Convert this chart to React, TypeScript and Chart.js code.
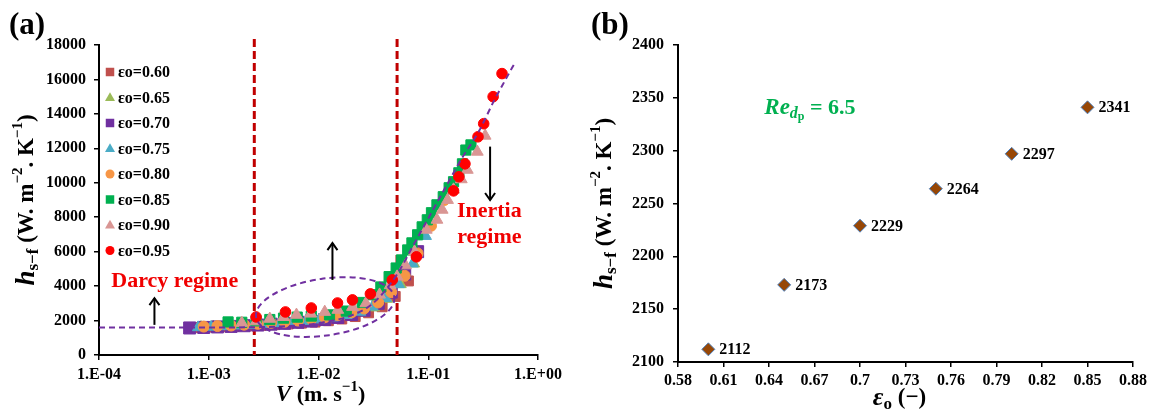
import React, { useEffect, useRef } from 'react';
import { Chart, registerables } from 'chart.js';
Chart.register(...registerables);

const FONT = '"Liberation Serif", "Times New Roman", serif';

// ---------- Panel (a) data ----------
const xTicksA = [1e-4, 1e-3, 1e-2, 1e-1, 1];
const xTickLabelsA = ['1.E-04', '1.E-03', '1.E-02', '1.E-01', '1.E+00'];

const seriesLabels = ['εo=0.60', 'εo=0.65', 'εo=0.70', 'εo=0.75', 'εo=0.80', 'εo=0.85', 'εo=0.90', 'εo=0.95'];
const seriesColors = ['#C0504D', '#9BBB59', '#7030A0', '#4BACC6', '#F79646', '#00B050', '#D99694', '#FF0000'];
const seriesStyles = ['rect', 'triangle', 'rect', 'triangle', 'circle', 'rect', 'triangle', 'circle'];
const seriesRadius = [7, 6.5, 8.5, 6.5, 5.5, 7.2, 6.8, 5.3];

const v060 = [0.00075, 0.001, 0.0013, 0.0017, 0.0023, 0.003, 0.004, 0.0053, 0.007, 0.0093, 0.0123, 0.0163, 0.0216, 0.0286, 0.038, 0.05, 0.066];
const h060 = [1600, 1620, 1640, 1660, 1690, 1720, 1760, 1800, 1850, 1910, 1990, 2090, 2230, 2450, 2800, 3400, 4300];
const v065 = [0.00085, 0.0011, 0.0015, 0.002, 0.0026, 0.0034, 0.0045, 0.006, 0.0079, 0.0104, 0.0138, 0.0183, 0.024, 0.032, 0.042, 0.056, 0.074];
const h065 = [1620, 1640, 1670, 1700, 1730, 1770, 1820, 1870, 1940, 2020, 2120, 2260, 2450, 2750, 3250, 4100, 5300];
const v070 = [0.00067, 0.0009, 0.0012, 0.0016, 0.0021, 0.0028, 0.0037, 0.0049, 0.0065, 0.0086, 0.0114, 0.015, 0.02, 0.026, 0.035, 0.046, 0.061, 0.08];
const h070 = [1570, 1600, 1630, 1660, 1700, 1740, 1790, 1840, 1900, 1970, 2060, 2180, 2350, 2600, 3000, 3650, 4700, 6000];
const v075 = [0.0008, 0.00105, 0.0014, 0.0019, 0.0025, 0.0033, 0.0044, 0.0058, 0.0077, 0.0102, 0.0135, 0.018, 0.024, 0.031, 0.041, 0.054, 0.072, 0.095];
const h075 = [1600, 1630, 1660, 1700, 1740, 1790, 1840, 1900, 1970, 2060, 2170, 2310, 2500, 2800, 3300, 4100, 5300, 6900];
const v080 = [0.0009, 0.0012, 0.0016, 0.0021, 0.0028, 0.0037, 0.0049, 0.0065, 0.0086, 0.0114, 0.015, 0.02, 0.026, 0.035, 0.046, 0.061, 0.08, 0.106, 0.14];
const h080 = [1650, 1680, 1710, 1760, 1810, 1870, 1930, 2000, 2090, 2190, 2320, 2480, 2700, 3050, 3650, 4600, 5900, 7500, 9000];
const v085 = [0.0015, 0.002, 0.0027, 0.0036, 0.0048, 0.0064, 0.0086, 0.0126, 0.0179, 0.025, 0.031, 0.037, 0.044, 0.051, 0.057, 0.065, 0.071, 0.08, 0.088, 0.098, 0.107, 0.12, 0.137, 0.155, 0.17, 0.19, 0.205, 0.22, 0.245];
const h085 = [1920, 1900, 1980, 2060, 2140, 2200, 2260, 2330, 2550, 3050, 3500, 3950, 4550, 5050, 5520, 6100, 6510, 6980, 7440, 7850, 8260, 8720, 9190, 9710, 10060, 10580, 11100, 11900, 12200];
const v090 = [0.002, 0.0027, 0.0036, 0.0048, 0.0063, 0.0085, 0.0114, 0.015, 0.0204, 0.027, 0.036, 0.045, 0.052, 0.062, 0.075, 0.096, 0.12, 0.134, 0.15, 0.17, 0.2, 0.227, 0.28, 0.33];
const h090 = [1860, 1950, 2100, 2200, 2330, 2400, 2500, 2620, 2790, 3000, 3500, 4050, 4550, 5200, 6000, 7270, 7850, 8430, 9000, 9600, 10200, 10750, 11800, 12730];
const v095 = [0.0027, 0.005, 0.0086, 0.0149, 0.0204, 0.0297, 0.047, 0.078, 0.17, 0.19, 0.216, 0.284, 0.32, 0.39, 0.47];
const h095 = [2210, 2500, 2730, 3020, 3200, 3550, 4360, 5700, 9530, 10350, 11100, 12670, 13430, 15000, 16340];

const seriesV = [v060, v065, v070, v075, v080, v085, v090, v095];
const seriesH = [h060, h065, h070, h075, h080, h085, h090, h095];

// dashed fitted trend line
const fitV = [1e-4, 0.001, 0.003, 0.006, 0.01, 0.02, 0.03, 0.04, 0.053, 0.0727, 0.1, 0.15, 0.2, 0.29, 0.4, 0.5, 0.62];
const fitH = [1600, 1600, 1620, 1700, 1850, 2300, 2900, 3700, 4770, 6340, 7930, 9950, 11370, 13000, 14800, 15930, 17000];

// regime limits (vertical dashed lines)
const limitV = [0.0026, 0.052];

// annotations (data coordinates)
const ellipseLeft = [0.0027, 2200];
const ellipseRight = [0.049, 3370];
const ellipseHalfMinor = 1650;
const arrowsA = [
  { v: 3.2e-4, from: 1750, to: 3300 },
  { v: 0.0134, from: 4360, to: 6500 },
  { v: 0.366, from: 12100, to: 9000 },
];
const darcyPos = [4.9e-4, 4250];
const inertiaPos = [0.36, 8350, 6850];

// ---------- Panel (b) data ----------
const porosity = [0.6, 0.65, 0.7, 0.75, 0.8, 0.85];
const hsf = [2112, 2173, 2229, 2264, 2297, 2341];
const xTicksB = [0.58, 0.61, 0.64, 0.67, 0.7, 0.73, 0.76, 0.79, 0.82, 0.85, 0.88];
const xTickLabelsB = ['0.58', '0.61', '0.64', '0.67', '0.7', '0.73', '0.76', '0.79', '0.82', '0.85', '0.88'];
const rePos = [0.667, 2340];

type Part = { t: string; size: number; italic?: boolean; dy?: number };

function drawRich(ctx: CanvasRenderingContext2D, parts: Part[], x: number, y: number, color: string, rotate = 0, align: 'center' | 'left' = 'center') {
  ctx.save();
  ctx.translate(x, y);
  if (rotate) ctx.rotate(rotate);
  const fontOf = (p: Part) => `${p.italic ? 'italic ' : ''}bold ${p.size}px ${FONT}`;
  let total = 0;
  const widths = parts.map((p) => {
    ctx.font = fontOf(p);
    const w = ctx.measureText(p.t).width;
    total += w;
    return w;
  });
  let cx = align === 'center' ? -total / 2 : 0;
  ctx.fillStyle = color;
  ctx.textBaseline = 'middle';
  ctx.textAlign = 'left';
  parts.forEach((p, i) => {
    ctx.font = fontOf(p);
    ctx.fillText(p.t, cx, p.dy || 0);
    cx += widths[i];
  });
  ctx.restore();
}

function drawArrow(ctx: CanvasRenderingContext2D, x: number, y1: number, y2: number) {
  const dir = y2 < y1 ? -1 : 1;
  ctx.save();
  ctx.strokeStyle = '#000';
  ctx.lineWidth = 2;
  ctx.setLineDash([]);
  ctx.beginPath();
  ctx.moveTo(x, y1);
  ctx.lineTo(x, y2);
  ctx.stroke();
  ctx.beginPath();
  ctx.moveTo(x - 5, y2 - dir * 7);
  ctx.lineTo(x, y2);
  ctx.lineTo(x + 5, y2 - dir * 7);
  ctx.stroke();
  ctx.restore();
}

function drawMarker(ctx: CanvasRenderingContext2D, style: string, x: number, y: number, s: number, color: string) {
  ctx.fillStyle = color;
  ctx.beginPath();
  if (style === 'rect') {
    ctx.rect(x - s / 2, y - s / 2, s, s);
  } else if (style === 'triangle') {
    const h = (s * Math.sqrt(3)) / 2;
    ctx.moveTo(x, y - h * 0.6);
    ctx.lineTo(x + s / 2, y + h * 0.4);
    ctx.lineTo(x - s / 2, y + h * 0.4);
    ctx.closePath();
  } else {
    ctx.arc(x, y, s / 2, 0, Math.PI * 2);
  }
  ctx.fill();
}

const tickFont = { family: FONT, size: 16, weight: 'bold' as const };

const yTitleParts: Part[] = [
  { t: 'h', size: 27, italic: true },
  { t: 's−f', size: 17, dy: 7 },
  { t: ' (W. m', size: 23 },
  { t: '−2', size: 15, dy: -9 },
  { t: '. K', size: 23 },
  { t: '−1', size: 15, dy: -9 },
  { t: ')', size: 23 },
];

export default function App() {
  const refA = useRef<HTMLCanvasElement>(null);
  const refB = useRef<HTMLCanvasElement>(null);

  useEffect(() => {
    const annotA = {
      id: 'annotA',
      beforeDatasetsDraw(chart: any) {
        const { ctx, chartArea, scales } = chart;
        const x = scales.x;
        ctx.save();
        ctx.strokeStyle = '#C00000';
        ctx.lineWidth = 3;
        ctx.setLineDash([8, 4]);
        limitV.forEach((v) => {
          const px = x.getPixelForValue(v);
          ctx.beginPath();
          ctx.moveTo(px, chartArea.top - 6);
          ctx.lineTo(px, chartArea.bottom);
          ctx.stroke();
        });
        ctx.restore();
      },
      afterDatasetsDraw(chart: any) {
        const { ctx, chartArea, scales } = chart;
        const x = scales.x;
        const y = scales.y;
        // ellipse
        const p1 = { x: x.getPixelForValue(ellipseLeft[0]), y: y.getPixelForValue(ellipseLeft[1]) };
        const p2 = { x: x.getPixelForValue(ellipseRight[0]), y: y.getPixelForValue(ellipseRight[1]) };
        const cx = (p1.x + p2.x) / 2;
        const cy = (p1.y + p2.y) / 2;
        const rx = Math.hypot(p2.x - p1.x, p2.y - p1.y) / 2;
        const ry = Math.abs(y.getPixelForValue(0) - y.getPixelForValue(ellipseHalfMinor));
        const ang = Math.atan2(p2.y - p1.y, p2.x - p1.x);
        ctx.save();
        ctx.strokeStyle = '#7030A0';
        ctx.lineWidth = 2;
        ctx.setLineDash([6, 4]);
        ctx.beginPath();
        ctx.ellipse(cx, cy, rx, ry, ang, 0, Math.PI * 2);
        ctx.stroke();
        ctx.restore();
        // arrows
        arrowsA.forEach((a) => drawArrow(ctx, x.getPixelForValue(a.v), y.getPixelForValue(a.from), y.getPixelForValue(a.to)));
        // regime texts
        ctx.save();
        ctx.fillStyle = '#F00000';
        ctx.font = `bold 22px ${FONT}`;
        ctx.textAlign = 'center';
        ctx.textBaseline = 'middle';
        ctx.fillText('Darcy regime', x.getPixelForValue(darcyPos[0]), y.getPixelForValue(darcyPos[1]));
        ctx.fillText('Inertia', x.getPixelForValue(inertiaPos[0]), y.getPixelForValue(inertiaPos[1]));
        ctx.fillText('regime', x.getPixelForValue(inertiaPos[0]), y.getPixelForValue(inertiaPos[2]));
        ctx.restore();
        // legend
        ctx.save();
        seriesLabels.forEach((lab, i) => {
          const ly = chartArea.top + 27 + i * 25.5;
          const lx = chartArea.left + 11;
          const st = seriesStyles[i];
          drawMarker(ctx, st, lx, ly, st === 'triangle' ? 10 : st === 'circle' ? 9 : 8.5, seriesColors[i]);
          ctx.fillStyle = '#000';
          ctx.font = `bold 16px ${FONT}`;
          ctx.textAlign = 'left';
          ctx.textBaseline = 'middle';
          ctx.fillText(lab, chartArea.left + 19, ly + 1);
        });
        ctx.restore();
      },
      afterDraw(chart: any) {
        const { ctx, chartArea } = chart;
        const my = (chartArea.top + chartArea.bottom) / 2;
        const mx = (chartArea.left + chartArea.right) / 2;
        drawRich(ctx, yTitleParts, 27, my, '#000', -Math.PI / 2);
        drawRich(ctx, [
          { t: 'V', size: 23, italic: true },
          { t: ' (m. s', size: 22 },
          { t: '−1', size: 15, dy: -8 },
          { t: ')', size: 22 },
        ], mx + 2, 395, '#000');
        ctx.save();
        ctx.fillStyle = '#000';
        ctx.font = `bold 31px ${FONT}`;
        ctx.textAlign = 'left';
        ctx.textBaseline = 'middle';
        ctx.fillText('(a)', 9, 26);
        ctx.restore();
      },
    };

    const datasetsA: any[] = seriesLabels.map((lab, i) => ({
      label: lab,
      data: seriesV[i].map((v, j) => ({ x: v, y: seriesH[i][j] })),
      pointStyle: seriesStyles[i],
      pointRadius: seriesRadius[i],
      pointHoverRadius: seriesRadius[i],
      backgroundColor: seriesColors[i],
      borderColor: seriesColors[i],
      pointBorderWidth: 1,
      showLine: false,
      order: 8 - i,
    }));
    datasetsA.push({
      label: 'fit',
      data: fitV.map((v, j) => ({ x: v, y: fitH[j] })),
      showLine: true,
      borderColor: '#7030A0',
      borderWidth: 2,
      borderDash: [6, 4],
      pointRadius: 0,
      cubicInterpolationMode: 'monotone',
      fill: false,
      order: -1,
    });

    const chartA = new Chart(refA.current!, {
      type: 'scatter',
      data: { datasets: datasetsA },
      options: {
        responsive: false,
        animation: false,
        layout: { padding: { left: 0, top: 45, right: 38, bottom: 0 } },
        plugins: { legend: { display: false }, tooltip: { enabled: false } },
        scales: {
          x: {
            type: 'logarithmic',
            min: 1e-4,
            max: 1,
            afterBuildTicks: (s: any) => { s.ticks = xTicksA.map((v) => ({ value: v })); },
            afterFit: (s: any) => { s.height = 57; },
            ticks: {
              callback: (_v: any, i: number) => xTickLabelsA[i],
              font: tickFont,
              color: '#000',
              padding: 5,
              maxRotation: 0,
              autoSkip: false,
            },
            grid: { drawOnChartArea: false, drawTicks: true, tickLength: 5, color: '#000', lineWidth: 1.5 },
            border: { display: true, color: '#000', width: 2 },
          },
          y: {
            type: 'linear',
            min: 0,
            max: 18000,
            afterFit: (s: any) => { s.width = 99; },
            ticks: { stepSize: 2000, font: tickFont, color: '#000', padding: 8, callback: (v: any) => String(v) },
            grid: { drawOnChartArea: false, drawTicks: true, tickLength: 5, color: '#000', lineWidth: 1.5 },
            border: { display: true, color: '#000', width: 2 },
          },
        },
      } as any,
      plugins: [annotA],
    });

    const annotB = {
      id: 'annotB',
      afterDatasetsDraw(chart: any) {
        const { ctx, scales } = chart;
        const meta = chart.getDatasetMeta(0);
        ctx.save();
        ctx.fillStyle = '#000';
        ctx.font = `bold 16px ${FONT}`;
        ctx.textAlign = 'left';
        ctx.textBaseline = 'middle';
        meta.data.forEach((pt: any, i: number) => {
          ctx.fillText(String(hsf[i]), pt.x + 11, pt.y + 1);
        });
        ctx.restore();
        const rx = scales.x.getPixelForValue(rePos[0]);
        const ry = scales.y.getPixelForValue(rePos[1]);
        drawRich(ctx, [
          { t: 'Re', size: 23, italic: true },
          { t: 'd', size: 16, italic: true, dy: 5 },
          { t: 'p', size: 12, dy: 9 },
          { t: ' = 6.5', size: 22 },
        ], rx, ry, '#00B050');
      },
      afterDraw(chart: any) {
        const { ctx, chartArea } = chart;
        const my = (chartArea.top + chartArea.bottom) / 2;
        const mx = (chartArea.left + chartArea.right) / 2;
        drawRich(ctx, yTitleParts, 29, my, '#000', -Math.PI / 2);
        drawRich(ctx, [
          { t: 'ε', size: 26, italic: true },
          { t: 'o', size: 17, dy: 7 },
          { t: ' (−)', size: 23 },
        ], mx - 6, 398, '#000');
        ctx.save();
        ctx.fillStyle = '#000';
        ctx.font = `bold 31px ${FONT}`;
        ctx.textAlign = 'left';
        ctx.textBaseline = 'middle';
        ctx.fillText('(b)', 15, 26);
        ctx.restore();
      },
    };

    const chartB = new Chart(refB.current!, {
      type: 'scatter',
      data: {
        datasets: [{
          label: 'hsf',
          data: porosity.map((p, i) => ({ x: p, y: hsf[i] })),
          pointStyle: 'rectRot',
          pointRadius: 6.5,
          pointHoverRadius: 6.5,
          backgroundColor: '#974706',
          borderColor: '#4F81BD',
          pointBorderWidth: 1,
        }],
      },
      options: {
        responsive: false,
        animation: false,
        layout: { padding: { left: 0, top: 45, right: 18, bottom: 0 } },
        plugins: { legend: { display: false }, tooltip: { enabled: false } },
        scales: {
          x: {
            type: 'linear',
            min: 0.58,
            max: 0.88,
            afterBuildTicks: (s: any) => { s.ticks = xTicksB.map((v) => ({ value: v })); },
            afterFit: (s: any) => { s.height = 50; },
            ticks: {
              callback: (_v: any, i: number) => xTickLabelsB[i],
              font: tickFont,
              color: '#000',
              padding: 4,
              maxRotation: 0,
              autoSkip: false,
            },
            grid: { drawOnChartArea: false, drawTicks: true, tickLength: 5, color: '#000', lineWidth: 1.5 },
            border: { display: true, color: '#000', width: 2 },
          },
          y: {
            type: 'linear',
            min: 2100,
            max: 2400,
            afterFit: (s: any) => { s.width = 102; },
            ticks: { stepSize: 50, font: tickFont, color: '#000', padding: 9, callback: (v: any) => String(v) },
            grid: { drawOnChartArea: false, drawTicks: true, tickLength: 5, color: '#000', lineWidth: 1.5 },
            border: { display: true, color: '#000', width: 2 },
          },
        },
      } as any,
      plugins: [annotB],
    });

    return () => {
      chartA.destroy();
      chartB.destroy();
    };
  }, []);

  return (
    <div style={{ position: 'fixed', left: 0, top: 0, width: 1151, height: 412, background: '#fff' }}>
      <canvas ref={refA} width={576} height={412} style={{ position: 'absolute', left: 0, top: 0, width: 576, height: 412 }} />
      <canvas ref={refB} width={575} height={412} style={{ position: 'absolute', left: 576, top: 0, width: 575, height: 412 }} />
    </div>
  );
}
